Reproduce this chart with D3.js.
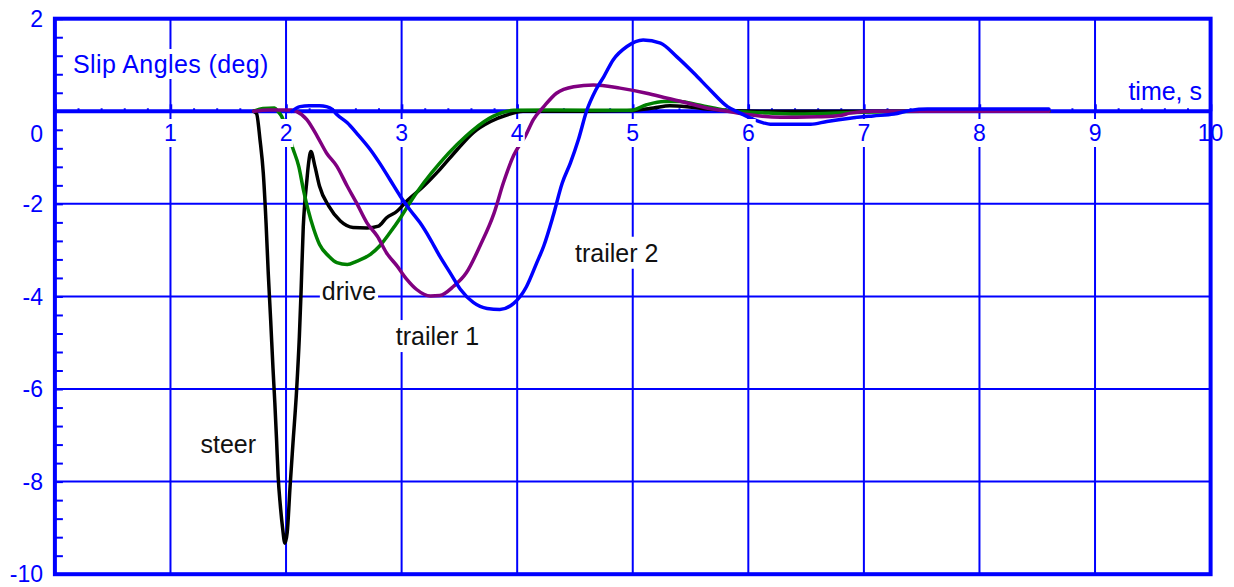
<!DOCTYPE html>
<html>
<head>
<meta charset="utf-8">
<script src="https://cdn.jsdelivr.net/npm/d3@7/dist/d3.min.js"></script>
<style>
  html, body { margin: 0; padding: 0; background: #fff; }
  svg { display: block; }
  text { font-family: "Liberation Sans", Arial, sans-serif; }
</style>
</head>
<body>
<svg id="chart" width="1234" height="587"></svg>
<script>
// ---------- data ----------
const xTicks = [0, 1, 2, 3, 4, 5, 6, 7, 8, 9, 10];
const xTickLabels = ["", "1", "2", "3", "4", "5", "6", "7", "8", "9", "10"];
const yTicks = [2, 0, -2, -4, -6, -8, -10];
const yTickLabels = ["2", "0", "-2", "-4", "-6", "-8", "-10"];
const yGrid = [-2, -4, -6, -8];
const xGrid = [1, 2, 3, 4, 5, 6, 7, 8, 9];

const steerT = [1.72,1.745,1.775,1.803,1.827,1.846,1.867,1.887,1.903,1.918,1.932,1.95,1.97,1.99,2.01,2.035,2.06,2.092,2.115,2.13,2.149,2.163,2.178,2.195,2.215,2.25,2.29,2.37,2.47,2.58,2.70,2.80,2.87,2.96,3.045,3.19,3.33,3.48,3.62,3.77,3.91,4.05,4.5,4.95,5.18,5.32,5.47,5.65,5.85,6.1,7.0,8.0,8.6];
const steerV = [0,-0.05,-0.62,-1.33,-2.41,-3.49,-4.51,-5.55,-6.3,-7.1,-7.9,-8.5,-9.0,-9.33,-9.1,-8.1,-7.17,-6.0,-4.88,-3.9,-2.5,-1.95,-1.55,-1.12,-0.87,-1.19,-1.62,-2.05,-2.37,-2.51,-2.52,-2.48,-2.30,-2.16,-1.94,-1.62,-1.26,-0.83,-0.46,-0.22,-0.08,0,0,0.01,0.07,0.12,0.10,0.05,0.01,0,0,0,0];

const driveT = [1.72,1.80,1.90,1.93,1.96,2.0,2.06,2.11,2.15,2.19,2.24,2.29,2.37,2.44,2.53,2.61,2.73,2.81,2.90,2.99,3.07,3.19,3.33,3.48,3.62,3.79,3.97,4.3,4.98,5.12,5.27,5.41,5.56,5.70,5.87,6.1,6.42,7.0,7.5,8.2,8.6];
const driveV = [0,0.06,0.07,0.0,-0.1,-0.35,-0.81,-1.19,-1.69,-2.12,-2.55,-2.88,-3.13,-3.27,-3.31,-3.24,-3.09,-2.91,-2.62,-2.30,-1.98,-1.55,-1.12,-0.72,-0.40,-0.11,0.02,0.03,0.02,0.14,0.21,0.21,0.14,0.07,0,-0.03,-0.06,-0.02,0,0,0];

const trailer1T = [1.72,1.85,2.05,2.09,2.18,2.27,2.35,2.44,2.53,2.61,2.70,2.79,2.87,2.96,3.045,3.13,3.25,3.33,3.45,3.56,3.68,3.80,3.88,3.97,4.07,4.14,4.23,4.34,4.49,4.66,4.89,5.12,5.30,5.47,5.64,5.82,5.99,6.28,6.42,6.6,6.80,6.88,7.08,7.5,8.6];
const trailer1V = [0,0.03,0.03,0,-0.18,-0.54,-0.9,-1.19,-1.62,-1.98,-2.41,-2.70,-3.06,-3.34,-3.63,-3.85,-3.99,-3.98,-3.78,-3.49,-2.9,-2.2,-1.55,-0.95,-0.54,-0.18,0.10,0.39,0.53,0.57,0.50,0.39,0.28,0.18,0.07,0,-0.07,-0.13,-0.13,-0.12,-0.09,-0.04,0,0,0];

const trailer2T = [2.05,2.12,2.2,2.29,2.35,2.40,2.44,2.53,2.61,2.73,2.81,2.90,2.99,3.07,3.16,3.25,3.33,3.42,3.51,3.62,3.74,3.85,3.97,4.08,4.17,4.23,4.31,4.39,4.46,4.53,4.60,4.68,4.75,4.83,4.95,5.09,5.24,5.38,5.53,5.67,5.82,5.93,6.05,6.13,6.19,6.54,6.68,6.88,7.08,7.26,7.4,7.55,8.0,8.6];
const trailer2V = [0,0.1,0.12,0.12,0.1,0.04,-0.07,-0.25,-0.47,-0.83,-1.12,-1.48,-1.84,-2.12,-2.41,-2.77,-3.13,-3.49,-3.85,-4.13,-4.26,-4.28,-4.15,-3.79,-3.27,-2.91,-2.27,-1.55,-1.12,-0.61,0,0.46,0.75,1.11,1.40,1.54,1.47,1.18,0.82,0.46,0.10,-0.04,-0.18,-0.25,-0.28,-0.28,-0.22,-0.15,-0.10,-0.06,0.02,0.05,0.05,0.05];

const seriesNames = ["steer", "drive", "trailer 1", "trailer 2"];
const seriesColors = ["#000000", "#008000", "#800080", "#0000ff"];
const seriesTimes = [steerT, driveT, trailer1T, trailer2T];
const seriesValues = [steerV, driveV, trailer1V, trailer2V];
// label anchors (time, value) of text start / baseline
const labelT = [1.26, 2.31, 2.95, 4.50];
const labelV = [-7.38, -4.08, -5.05, -3.25];

// ---------- drawing ----------
const BLUE = "#0000ff";
const svg = d3.select("#chart");
svg.append("rect").attr("width", 1234).attr("height", 587).attr("fill", "#fff");

const x = d3.scaleLinear().domain([0, 10]).range([54.9, 1210.6]);
const y = d3.scaleLinear().domain([-10, 2]).range([574.2, 18.7]);

// grid
const grid = svg.append("g").attr("stroke", BLUE).attr("stroke-width", 2).attr("fill", "none");
grid.selectAll("line.v").data(xGrid).join("line")
  .attr("x1", d => x(d)).attr("x2", d => x(d))
  .attr("y1", y(2)).attr("y2", y(-10));
grid.selectAll("line.h").data(yGrid).join("line")
  .attr("x1", x(0)).attr("x2", x(10))
  .attr("y1", d => y(d)).attr("y2", d => y(d));

// time axis at 0 (thick) with ticks above
const axisG = svg.append("g").attr("transform", `translate(0,${y(0)})`);
const xAxis = d3.axisTop(x).tickValues(d3.range(0, 10.001, 0.2)).tickSize(3).tickFormat("");
axisG.call(xAxis);
axisG.select(".domain").remove();
axisG.selectAll(".tick line").attr("stroke", BLUE).attr("stroke-width", 2);
axisG.selectAll(".tick").filter(d => Math.abs(d - Math.round(d)) < 1e-6)
  .select("line").attr("y2", -7).attr("stroke-width", 2.5);
axisG.append("line").attr("x1", x(0)).attr("x2", x(10)).attr("y1", 0).attr("y2", 0)
  .attr("stroke", BLUE).attr("stroke-width", 4);

// left minor ticks
const yAxisG = svg.append("g").attr("transform", `translate(${x(0)},0)`);
yAxisG.call(d3.axisRight(y).tickValues(d3.range(-10, 2.001, 0.4)).tickSize(8).tickFormat(""));
yAxisG.select(".domain").remove();
yAxisG.selectAll(".tick line").attr("stroke", BLUE).attr("stroke-width", 2);

// curves
const line = d3.line().x(d => x(d[0])).y(d => y(d[1])).curve(d3.curveMonotoneX);
seriesNames.forEach((name, i) => {
  const pts = seriesTimes[i].map((t, j) => [t, seriesValues[i][j]]);
  svg.append("path").datum(pts)
    .attr("d", line)
    .attr("fill", "none")
    .attr("stroke", seriesColors[i])
    .attr("stroke-width", 3.5)
    .attr("stroke-linejoin", "round")
    .attr("stroke-linecap", "round");
});

// text with white background
function boxedText(g, tx, ty, str, opts) {
  const t = g.append("text").attr("x", tx).attr("y", ty).text(str)
    .attr("font-size", opts.size).attr("fill", opts.color)
    .attr("text-anchor", opts.anchor || "start")
    .attr("letter-spacing", opts.ls || 0);
  const b = t.node().getBBox();
  const p = opts.pad == null ? 2 : opts.pad;
  g.insert("rect", () => t.node())
    .attr("x", b.x - p).attr("y", b.y - p)
    .attr("width", b.width + 2 * p).attr("height", b.height + 2 * p)
    .attr("fill", "#fff");
  return t;
}
const labels = svg.append("g");

// x tick labels
xTicks.forEach((v, i) => {
  if (!xTickLabels[i]) return;
  boxedText(labels, x(v), 141, xTickLabels[i], { size: 23, color: BLUE, anchor: "middle", pad: 1 });
});
// y tick labels
yTicks.forEach((v, i) => {
  const cy = v === 0 ? 133.5 : y(v);
  boxedText(labels, 43, cy + 8.2, yTickLabels[i], { size: 23, color: BLUE, anchor: "end", pad: 1 });
});

// titles
boxedText(labels, 73, 73, "Slip Angles (deg)", { size: 25, color: BLUE, ls: 0.4, pad: 1 });
boxedText(labels, 1202, 100, "time, s", { size: 25, color: BLUE, anchor: "end", pad: 1 });

// series labels
seriesNames.forEach((name, i) => {
  boxedText(labels, x(labelT[i]), y(labelV[i]), name, { size: 25, color: "#111", pad: 2 });
});

// frame
svg.append("rect")
  .attr("x", x(0)).attr("y", y(2))
  .attr("width", x(10) - x(0)).attr("height", y(-10) - y(2))
  .attr("fill", "none").attr("stroke", BLUE).attr("stroke-width", 4);
</script>
</body>
</html>
